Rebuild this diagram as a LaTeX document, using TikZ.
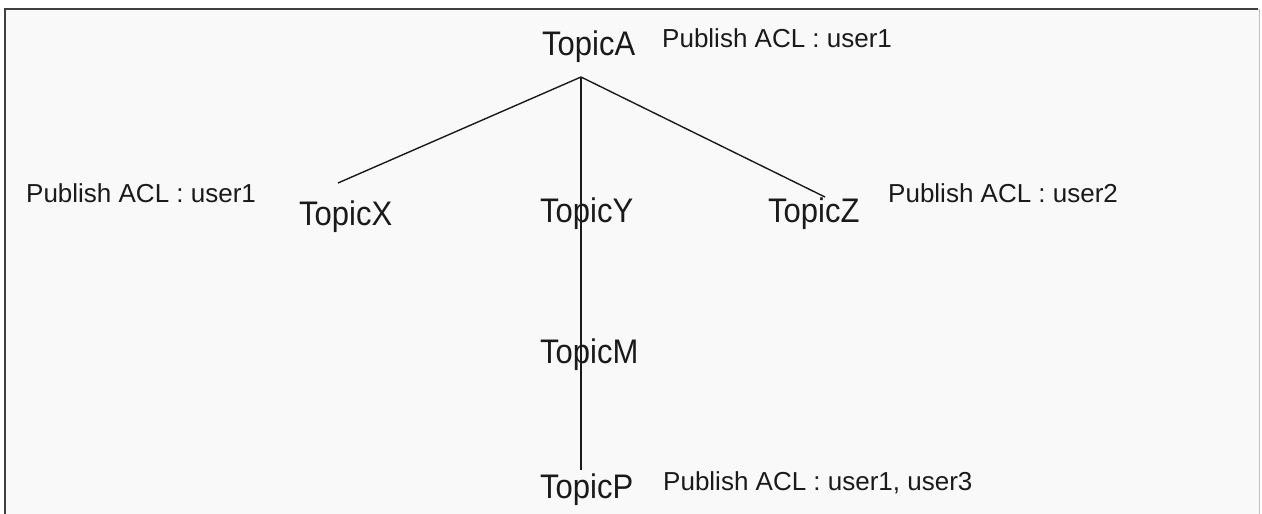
\documentclass[tikz,border=0pt]{standalone}
\usepackage{fontspec}
\setmainfont{Liberation Sans}
\definecolor{bgc}{HTML}{F9F9F9}
\definecolor{frame}{HTML}{404040}
\definecolor{frameR}{HTML}{C0C0C0}
\definecolor{ink}{HTML}{1A1A1A}
\newcommand{\tallt}[1]{\scalebox{1}[1.1]{#1}}
\begin{document}
\begin{tikzpicture}[x=1pt,y=-1pt,
  topic/.style={inner sep=0pt,anchor=base west,text=ink,font=\fontsize{31}{31}\selectfont},
  acl/.style={inner sep=0pt,anchor=base west,text=ink,font=\fontsize{26}{26}\selectfont},
  edge/.style={draw=ink,line width=1.4pt}]
\useasboundingbox (0,0) rectangle (1262,514);
\fill[white] (0,0) rectangle (1262,514);
\fill[bgc] (5,9) rectangle (1259,514);
\draw[frame,line width=2pt] (5,514) -- (5,9) -- (1258,9);
\draw[frameR,line width=1pt] (1259,9) -- (1259,514);

\coordinate (apex) at (581,77);
\coordinate (xend) at (338,183);
\coordinate (zend) at (825,197);
\coordinate (pend) at (581,470);

\draw[edge] (apex) -- (xend);
\draw[edge] (apex) -- (zend);
\draw[edge] (apex) -- (pend);

\node[topic] (A) at (542,55) {\tallt{TopicA}};
\node[acl] (aclA) at (662,47) {Publish ACL : user1};
\node[topic] (X) at (299,225) {\tallt{TopicX}};
\node[acl] (aclX) at (26,202) {Publish ACL : user1};
\node[topic] (Y) at (540,222) {\tallt{TopicY}};
\node[topic] (Z) at (768,222) {\tallt{TopicZ}};
\node[acl] (aclZ) at (888,202) {Publish ACL : user2};
\node[topic] (M) at (540,363) {\tallt{TopicM}};
\node[topic] (P) at (540,498) {\tallt{TopicP}};
\node[acl] (aclP) at (663,490) {Publish ACL : user1, user3};
\end{tikzpicture}
\end{document}
